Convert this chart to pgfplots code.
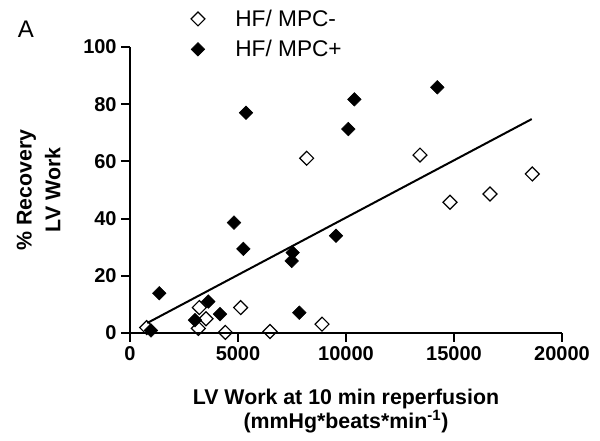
\documentclass[border=0pt]{standalone}
\usepackage{pgfplots}
\pgfplotsset{compat=1.18}
\usepackage{fontspec}
\setmainfont{Liberation Sans}
\begin{document}
\begin{tikzpicture}
\path[use as bounding box] (0pt,0pt) rectangle (450pt,330.75pt);
\node[font=\fontsize{18}{20}\selectfont] at (19.5pt,308.6pt) {A};
\begin{axis}[
  at={(97.5pt,81pt)}, anchor=south west,
  scale only axis, width=324pt, height=214.5pt,
  xmin=0, xmax=20000, ymin=0, ymax=100,
  axis x line*=bottom, axis y line*=left,
  axis line style={line width=1.5pt},
  tick style={line width=1.5pt, black},
  major tick length=6.5pt, tick align=outside,
  xtick={0,5000,10000,15000,20000}, ytick={0,20,40,60,80,100},
  scaled x ticks=false,
  /pgf/number format/1000 sep={},
  /pgf/number format/assume math mode=true,
  tick label style={font=\fontsize{15}{18}\selectfont\bfseries},
  xlabel={LV Work at 10 min reperfusion\\(mmHg*beats*min\textsuperscript{-1})},
  ylabel={\% Recovery\\LV Work},
  every axis x label/.style={at={(axis description cs:0.5,-0.273)}, anchor=center,
    align=center, font=\fontsize{16}{17}\selectfont\bfseries},
  every axis y label/.style={at={(axis description cs:-0.2115,0.5)}, anchor=center,
    rotate=90, align=center, font=\fontsize{16}{21.5}\selectfont\bfseries},
  clip=false,
  legend image code/.code={\path[draw=none,fill=none] (0pt,0pt) -- (32pt,0pt); \draw[#1] plot coordinates {(6pt,0pt)};},
  legend style={draw=none, fill=none, font=\fontsize{17}{19}\selectfont,
    at={(0.129,1.150)}, anchor=north west, row sep=5pt},
  legend cell align=left,
]
\addplot[only marks, mark=square, mark size=3.7pt, mark options={rotate=45, line width=0.9pt, fill=white}] coordinates {
(772,1.9) (3210,8.9) (3163,1.6) (3519,5.0) (4414,0.2) (5123,8.9) (6481,0.5)
(8179,61.1) (8889,3.1) (13426,62.2) (14815,45.7) (16667,48.6) (18627,55.6)
};
\addlegendentry{HF/ MPC-}
\addplot[only marks, mark=square*, mark size=3.6pt, mark options={rotate=45, fill=black}] coordinates {
(1357,13.9) (972,0.9) (3009,4.5) (3626,11.0) (4167,6.6) (4815,38.6) (5247,29.4)
(5370,77.0) (7531,28.1) (7485,25.2) (7840,7.1) (9537,34.0) (10108,71.3)
(10386,81.7) (14228,85.9)
};
\addlegendentry{HF/ MPC+}
\addplot[forget plot, line width=1.5pt, black] coordinates {(800,3.5) (18600,74.8)};
\end{axis}
\end{tikzpicture}
\end{document}
